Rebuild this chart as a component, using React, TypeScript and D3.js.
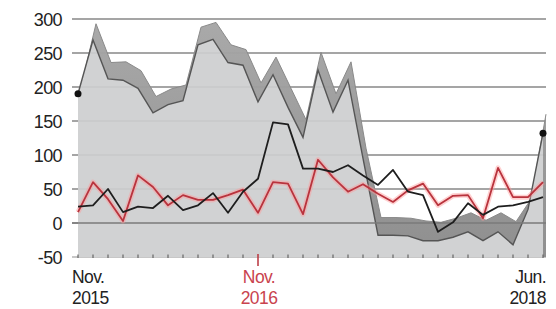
import * as d3 from "d3";

const W = 556;
const H = 309;

// monthly, Nov 2015 .. Jun 2018
const MONTHS = d3.timeMonth.range(new Date(2015, 10, 1), new Date(2018, 6, 1));

// grey ribbon: top of the dark band and the dark edge line under it
const UPPER = [200, 293, 236, 237, 224, 186, 197, 203, 288, 295, 262, 255, 206, 244, 198, 152, 251, 190, 237, 110, 8, 8, 7, 3, 1, 7, 15, 4, 15, 2, 35, 160];
const LOWER = [190, 269, 212, 210, 198, 162, 174, 180, 262, 270, 236, 232, 178, 218, 170, 126, 225, 163, 210, 95, -18, -18, -19, -26, -26, -21, -13, -26, -13, -32, 20, 132];
const BLACK = [24, 26, 50, 16, 24, 22, 40, 19, 26, 44, 15, 46, 65, 148, 145, 80, 80, 75, 85, 70, 56, 78, 46, 41, -13, 1, 29, 12, 24, 26, 31, 38];
const RED = [16, 60, 35, 3, 70, 53, 26, 41, 34, 34, 41, 49, 15, 60, 58, 13, 93, 67, 46, 57, 43, 31, 48, 58, 26, 40, 41, 7, 81, 38, 38, 60];

const DOT_AT = [0, 31];
const DOT_VAL = [190, 132];

const Y_TICKS = [-50, 0, 50, 100, 150, 200, 250, 300];
const X_LABEL_AT = [0, 12, 31];
const X_LABEL_TEXT = [["Nov.", "2015"], ["Nov.", "2016"], ["Jun.", "2018"]];
const HIGHLIGHT = 12;

const RED_C = "#b9333d";
const FONT = "'Liberation Sans', Arial, sans-serif";
const BAND_DX = 3;

export default function App() {
  const idx = MONTHS.map((_, i) => i);
  const x = d3.scaleLinear().domain([0, MONTHS.length - 1]).range([78, 543]);
  const y = d3.scaleLinear().domain([-50, 300]).range([257, 19]);
  const bottom = y(-50);

  const bandArea = d3.area<number>().x((i) => x(i) + BAND_DX).y0(bottom).y1((i) => y(UPPER[i]));
  const bandTop = d3.line<number>().x((i) => x(i) + BAND_DX).y((i) => y(UPPER[i]));
  const baseArea = d3.area<number>().x((i) => x(i)).y0(bottom).y1((i) => y(LOWER[i]));
  const baseLine = d3.line<number>().x((i) => x(i)).y((i) => y(LOWER[i]));
  const blackLine = d3.line<number>().x((i) => x(i)).y((i) => y(BLACK[i]));
  const redLine = d3.line<number>().x((i) => x(i)).y((i) => y(RED[i]));

  const gx0 = 72;
  const gx1 = 546;

  return (
    <svg width={W} height={H} style={{ position: "absolute", left: 0, top: 0, background: "#fff" }} fontFamily={FONT}>
      <defs>
        <linearGradient id="band" x1="0" x2="0" y1="0" y2="1">
          <stop offset="0%" stopColor="#a9a9a9" />
          <stop offset="100%" stopColor="#8f8f8f" />
        </linearGradient>
      </defs>

      {/* grid */}
      {Y_TICKS.map((t) => (
        <line key={t} x1={gx0} x2={gx1} y1={y(t)} y2={y(t)} stroke={t === -50 ? "#b5b5b5" : "#8c8c8c"} strokeWidth={1.3} />
      ))}

      {/* ribbon */}
      <path d={bandArea(idx) ?? ""} fill="url(#band)" />
      <path d={bandTop(idx) ?? ""} fill="none" stroke="#8a8a8a" strokeWidth={1} />
      <path d={baseArea(idx) ?? ""} fill="#d1d2d3" />
      <path d={baseLine(idx) ?? ""} fill="none" stroke="#555" strokeWidth={1.4} />

      {/* faint grid through the fill, zero line on top */}
      {Y_TICKS.filter((t) => t > 0).map((t) => (
        <line key={t} x1={gx0} x2={gx1} y1={y(t)} y2={y(t)} stroke="#8c8c8c" strokeWidth={1} strokeOpacity={0.18} />
      ))}
      <line x1={gx0} x2={gx1} y1={y(0)} y2={y(0)} stroke="#7a7a7a" strokeWidth={1.4} />

      {/* month ticks */}
      {idx.map((i) =>
        i === HIGHLIGHT ? (
          <line key={i} x1={x(i)} x2={x(i)} y1={bottom - 3} y2={bottom + 9} stroke={RED_C} strokeWidth={1.5} />
        ) : (
          <line key={i} x1={x(i)} x2={x(i)} y1={bottom - 2.5} y2={bottom + 1} stroke="#666" strokeWidth={1.2} />
        )
      )}

      {/* red series with halo */}
      <path d={redLine(idx) ?? ""} fill="none" stroke="#ff9a9a" strokeOpacity={0.45} strokeWidth={5} strokeLinejoin="round" />
      <path d={redLine(idx) ?? ""} fill="none" stroke={RED_C} strokeWidth={1.8} strokeLinejoin="round" />

      {/* black series */}
      <path d={blackLine(idx) ?? ""} fill="none" stroke="#1e1e1e" strokeWidth={1.8} strokeLinejoin="round" />

      {DOT_AT.map((i, k) => (
        <circle key={i} cx={x(i)} cy={y(DOT_VAL[k])} r={3.5} fill="#111" />
      ))}

      {/* y labels */}
      {Y_TICKS.map((t) => (
        <text key={t} x={62} y={y(t) + 6.5} textAnchor="end" fontSize={18} fill="#222" letterSpacing={-0.6}>
          {t}
        </text>
      ))}

      {/* x labels */}
      {X_LABEL_AT.map((i, k) => {
        const anchor = k === 0 ? "start" : k === X_LABEL_AT.length - 1 ? "end" : "middle";
        const lx = k === 0 ? x(i) - 6 : k === X_LABEL_AT.length - 1 ? x(i) + 3 : x(i) + 1;
        const fill = i === HIGHLIGHT ? "#c9434e" : "#222";
        return (
          <text key={i} x={lx} textAnchor={anchor} fontSize={17.5} fill={fill} letterSpacing={-0.6}>
            <tspan x={lx} y={283}>{X_LABEL_TEXT[k][0]}</tspan>
            <tspan x={lx} y={304}>{X_LABEL_TEXT[k][1]}</tspan>
          </text>
        );
      })}
    </svg>
  );
}
